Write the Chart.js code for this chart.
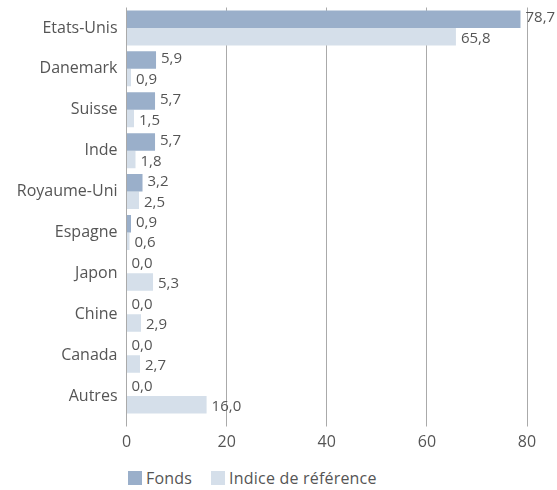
<!DOCTYPE html>
<html>
<head>
<meta charset="utf-8">
<script src="https://cdn.jsdelivr.net/npm/chart.js@4/dist/chart.umd.min.js"></script>
<style>
  html, body { margin:0; padding:0; background:#fff; }
  #wrap { position:relative; width:557px; height:490px; font-family:'Open Sans', sans-serif; }
  #box { position:absolute; left:0; top:0; width:557px; height:460px; }
  #legend { position:absolute; left:128px; top:467px; display:flex; align-items:center;
            font-size:16px; color:#555; letter-spacing:0.2px; }
  .sw { display:inline-block; width:14px; height:14px; margin-right:4px; }
  .item { display:flex; align-items:center; margin-right:19px; }
</style>
</head>
<body>
<div id="wrap">
  <div id="box"><canvas id="c"></canvas></div>
  <div id="legend"></div>
</div>
<script>
const countries = ['Etats-Unis','Danemark','Suisse','Inde','Royaume-Uni','Espagne','Japon','Chine','Canada','Autres'];
const fonds  = [78.7, 5.9, 5.7, 5.7, 3.2, 0.9, 0.0, 0.0, 0.0, 0.0];
const indice = [65.8, 0.9, 1.5, 1.8, 2.5, 0.6, 5.3, 2.9, 2.7, 16.0];
const xTicks = [0, 20, 40, 60, 80];
const seriesNames = ['Fonds', 'Indice de référence'];

const C_FONDS = '#9aafca';
const C_INDICE = '#d5dfea';
const TXT = '#555';
const FONT = "'Open Sans', sans-serif";

// value labels at the end of each bar, French decimal comma
const barLabels = {
  id: 'barLabels',
  afterDatasetsDraw(chart){
    const ctx = chart.ctx;
    ctx.save();
    ctx.font = '15px ' + FONT;
    ctx.fillStyle = TXT;
    ctx.textAlign = 'left';
    ctx.textBaseline = 'middle';
    chart.data.datasets.forEach((ds, di) => {
      chart.getDatasetMeta(di).data.forEach((bar, i) => {
        const txt = Number(ds.data[i]).toFixed(1).replace('.', ',');
        ctx.fillText(txt, bar.x + 5, bar.y + (di === 0 ? -1 : 2));
      });
    });
    ctx.restore();
  }
};

new Chart(document.getElementById('c'), {
  type: 'bar',
  data: {
    labels: countries,
    datasets: [
      { label: seriesNames[0], data: fonds,  backgroundColor: C_FONDS, barPercentage: 1, categoryPercentage: 0.855 },
      { label: seriesNames[1], data: indice, backgroundColor: C_INDICE, barPercentage: 1, categoryPercentage: 0.855 },
    ]
  },
  options: {
    indexAxis: 'y',
    responsive: true, maintainAspectRatio: false,
    animation: false,
    layout: { padding: { top: 7.5, right: 30, left: 0, bottom: 0 } },
    plugins: { legend: { display: false }, tooltip: { enabled: false } },
    scales: {
      x: {
        min: 0, max: 80,
        afterBuildTicks: s => { s.ticks = xTicks.map(v => ({ value: v })); },
        afterFit: s => { s.height = 43.5; s.paddingLeft = 0; s.paddingRight = 0; },
        grid: { color: '#aaa', lineWidth: 1, tickLength: 10, tickColor: '#aaa' },
        border: { display: false },
        ticks: { color: TXT, font: { size: 16, family: FONT }, padding: 6 },
      },
      y: {
        afterFit: s => { s.width = 126.5; s.paddingTop = 0; s.paddingBottom = 0; },
        grid: { display: false, drawTicks: false },
        border: { display: false },
        ticks: { color: TXT, font: { size: 16, family: FONT }, padding: 9 },
      }
    }
  },
  plugins: [barLabels]
});

const lg = document.getElementById('legend');
[C_FONDS, C_INDICE].forEach((col, i) => {
  const it = document.createElement('span');
  it.className = 'item';
  it.innerHTML = '<span class="sw" style="background:' + col + '"></span>' + seriesNames[i];
  lg.appendChild(it);
});
</script>
</body>
</html>
